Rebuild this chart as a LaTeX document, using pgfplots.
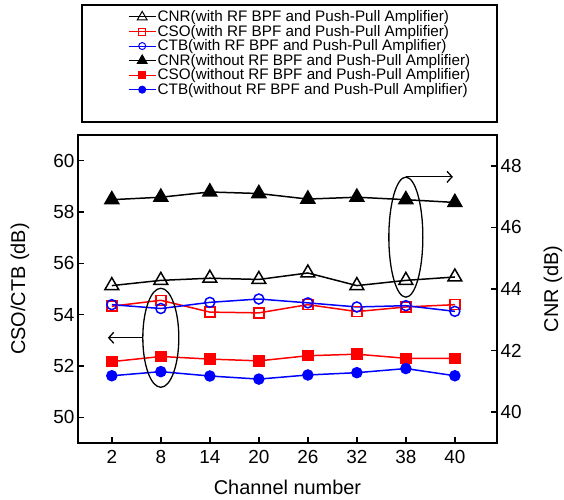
\documentclass[border=0pt]{standalone}
\usepackage{fontspec}
\setmainfont{Liberation Sans}
\usepackage{pgfplots}
\pgfplotsset{compat=1.18}
\usetikzlibrary{arrows.meta}
\pgfplotsset{
  common/.style={
    scale only axis, width=419bp, height=308bp,
    xmin=-0.69, xmax=7.86,
    xtick={0,...,7}, xticklabels={2,8,14,20,26,32,38,40},
    tick align=inside, major tick length=6bp,
    every tick/.style={black, line width=1.6pt},
    tick label style={font=\fontsize{19}{19}\selectfont},
    xticklabel style={yshift=-4bp},
    /pgf/number format/assume math mode=true,
    label style={font=\fontsize{20}{20}\selectfont},
    clip=false,
  },
  pl/.style={line width=1.5pt, mark options={solid, line width=1.2pt}},
}
\begin{document}
\begin{tikzpicture}
\begin{axis}[common,
  ymin=49, ymax=61, ytick={50,52,...,60},
  xtick pos=left, ytick pos=left,
  xlabel={Channel number}, ylabel={CSO/CTB (dB)},
  xlabel style={at={([yshift=-44bp]rel axis cs:0.5,0)}, anchor=center},
  ylabel style={at={([xshift=-58bp]rel axis cs:0,0.5)}, anchor=center},
]
\addplot[pl, red, mark=square, mark size=5bp, mark options={fill=white}] coordinates {
 (0,54.33) (1,54.56) (2,54.10) (3,54.07) (4,54.39) (5,54.12) (6,54.30) (7,54.39)};
\addplot[pl, blue, mark=o, mark size=5bp, mark options={fill=white}] coordinates {
 (0,54.39) (1,54.24) (2,54.48) (3,54.61) (4,54.46) (5,54.30) (6,54.35) (7,54.13)};
\addplot[pl, red, mark=square*, mark size=5bp, mark options={fill=red}] coordinates {
 (0,52.17) (1,52.37) (2,52.27) (3,52.20) (4,52.40) (5,52.46) (6,52.30) (7,52.30)};
\addplot[pl, blue, mark=*, mark size=5bp, mark options={fill=blue}] coordinates {
 (0,51.62) (1,51.78) (2,51.61) (3,51.49) (4,51.65) (5,51.74) (6,51.90) (7,51.62)};
\draw[line width=1.3pt] (axis cs:1,53.1) ellipse [x radius=18bp, y radius=49.5bp];
\draw[line width=1.3pt,-{Straight Barb[length=5bp,width=11bp]}] ([xshift=-18bp]axis cs:1,53.1) -- (axis cs:-0.08,53.1);
\draw[line width=1.3pt] (axis cs:6,57.02) ellipse [x radius=17bp, y radius=60bp];
\draw[line width=1.3pt,-{Straight Barb[length=5bp,width=11bp]}] (axis cs:6,59.37) -- (axis cs:6.96,59.37);
\draw[line width=2.5pt] (rel axis cs:0,0) rectangle (rel axis cs:1,1);
\draw[line width=2pt] ([xshift=4bp,yshift=13bp]rel axis cs:0,1) rectangle ([yshift=130bp]rel axis cs:1,1);
\end{axis}
\begin{axis}[common,
  ymin=39, ymax=49, ytick={40,42,...,48},
  axis y line*=right, axis x line=none,
  ylabel={CNR (dB)},
  ylabel style={at={([xshift=56bp]rel axis cs:1,0.5)}, anchor=center},
  legend cell align=left,
  legend image code/.code={\draw[mark repeat=2,mark phase=2,#1] plot coordinates {(0bp,0bp) (13.5bp,0bp) (27bp,0bp)};},
  legend image post style={line width=1pt, every mark/.append style={scale=0.7}},
  legend style={at={([xshift=50bp,yshift=126bp]rel axis cs:0,1)}, anchor=north west,
    draw=none, fill=none, inner sep=0pt, font=\fontsize{15.3}{16}\selectfont,
    row sep=-1.0bp, nodes={inner sep=1.5bp}},
]
\addplot[pl, black, mark=triangle, mark size=8bp, mark options={fill=white}] coordinates {
 (0,44.11) (1,44.28) (2,44.35) (3,44.31) (4,44.52) (5,44.11) (6,44.28) (7,44.39)};
\addlegendentry{CNR(with RF BPF and Push-Pull Amplifier)}
\addlegendimage{pl, red, mark=square, mark size=5bp, mark options={fill=white}}
\addlegendentry{CSO(with RF BPF and Push-Pull Amplifier)}
\addlegendimage{pl, blue, mark=o, mark size=5bp, mark options={fill=white}}
\addlegendentry{CTB(with RF BPF and Push-Pull Amplifier)}
\addplot[pl, black, mark=triangle*, mark size=8bp, mark options={fill=black}] coordinates {
 (0,46.90) (1,46.98) (2,47.15) (3,47.10) (4,46.92) (5,46.98) (6,46.90) (7,46.81)};
\addlegendentry{CNR(without RF BPF and Push-Pull Amplifier)}
\addlegendimage{pl, red, mark=square*, mark size=5bp, mark options={fill=red}}
\addlegendentry{CSO(without RF BPF and Push-Pull Amplifier)}
\addlegendimage{pl, blue, mark=*, mark size=5bp, mark options={fill=blue}}
\addlegendentry{CTB(without RF BPF and Push-Pull Amplifier)}
\end{axis}
\pgfresetboundingbox
\useasboundingbox (-78bp,-57bp) rectangle (486bp,443bp);
\end{tikzpicture}
\end{document}
